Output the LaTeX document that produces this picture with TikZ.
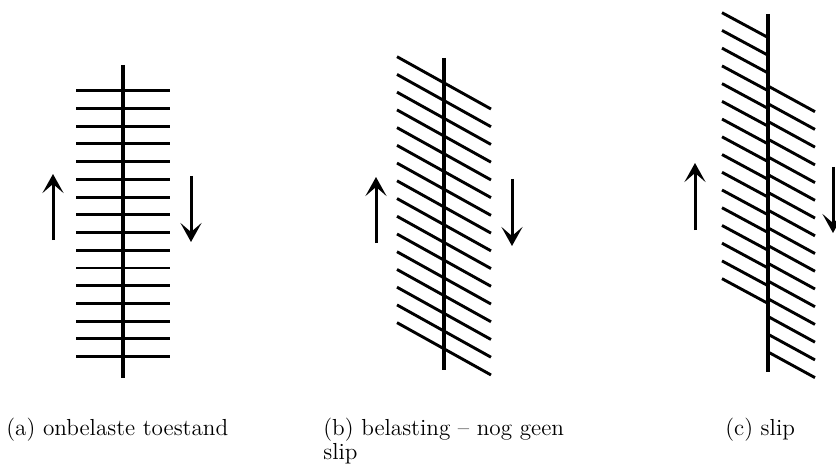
\documentclass[tikz,border=0pt]{standalone}
\usetikzlibrary{arrows.meta}
\begin{document}
\begin{tikzpicture}[x=0.5pt,y=-0.5pt,
  bar/.style={line width=1.55pt},
  hatch/.style={line width=1.45pt},
  force/.style={line width=1.5pt,-{Stealth[length=9.5pt,width=10.5pt,inset=4.5pt]}},
  caption/.style={inner sep=0pt,align=left,font=\fontsize{11.6}{10.6}\selectfont}]
\useasboundingbox (0,0) rectangle (836,465);
% panel (a)
\foreach \i in {0,...,15}{
  \draw[hatch] (76,{90.7+17.73*\i}) -- (170,{90.7+17.73*\i});
}
\draw[bar] (123,65) -- (123,378);
\coordinate (aus) at (53,240); \coordinate (aue) at (53,174);
\coordinate (ads) at (191,176); \coordinate (ade) at (191,242);
\draw[force] (aus) -- (aue);
\draw[force] (ads) -- (ade);
% panel (b)
\foreach \i in {0,...,15}{
  \draw[hatch] (397,{56.7+17.73*\i}) -- (491,{109+17.73*\i});
}
\draw[bar] (444,58) -- (444,370);
\coordinate (bus) at (376,243); \coordinate (bue) at (376,177);
\coordinate (bds) at (512,179); \coordinate (bde) at (512,246);
\draw[force] (bus) -- (bue);
\draw[force] (bds) -- (bde);
% panel (c)
\foreach \i in {0,...,15}{
  \draw[hatch] (722,{12.7+17.73*\i}) -- (768,{37.5+17.73*\i});
  \draw[hatch] (768,{86+17.73*\i}) -- (815,{111.7+17.73*\i});
}
\draw[bar] (768,14) -- (768,372);
\coordinate (cus) at (695,230); \coordinate (cue) at (695,163);
\coordinate (cds) at (833,167); \coordinate (cde) at (833,233);
\draw[force] (cus) -- (cue);
\draw[force] (cds) -- (cde);
% captions
\node[caption,anchor=base west] (capa) at (6,435) {(a) onbelaste toestand};
\node[caption,anchor=north west] (capb) at (323,417.6) {(b) belasting -- nog geen\\slip};
\node[caption,anchor=base west] (capc) at (725,435) {(c) slip};
\end{tikzpicture}
\end{document}
